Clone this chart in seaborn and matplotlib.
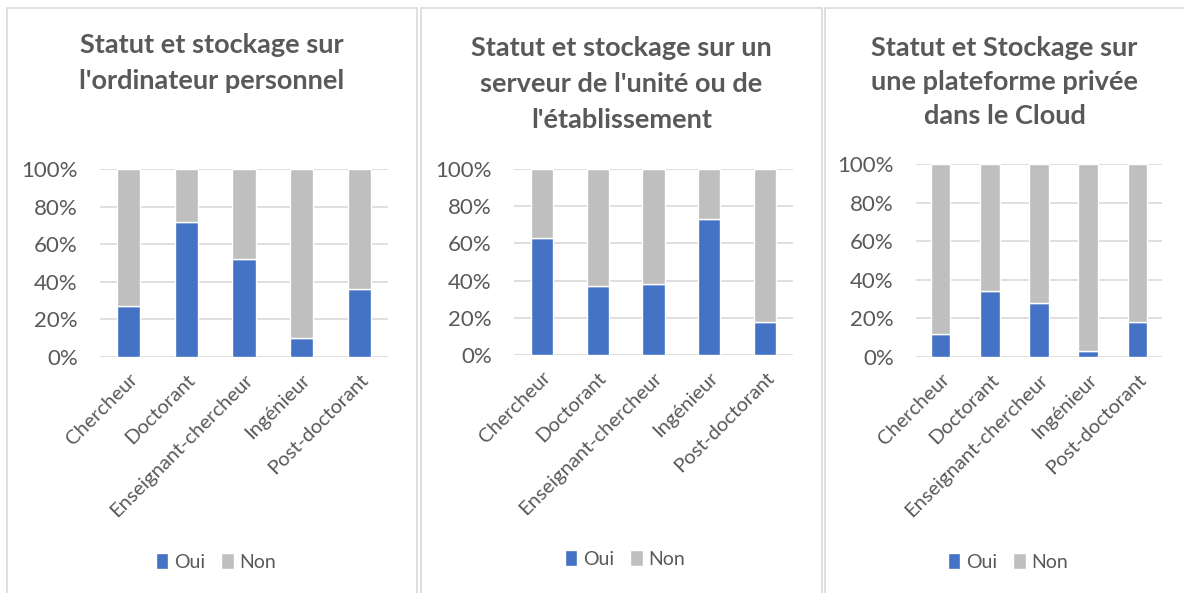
import matplotlib
matplotlib.use("Agg")
import matplotlib.pyplot as plt
import seaborn as sns
import pandas as pd
from matplotlib.patches import Rectangle
from matplotlib.ticker import PercentFormatter

categories = ["Chercheur", "Doctorant", "Enseignant-chercheur", "Ingénieur", "Post-doctorant"]
titles = [
    "Statut et stockage sur\nl'ordinateur personnel",
    "Statut et stockage sur un\nserveur de l'unité ou de\nl'établissement",
    "Statut et Stockage sur\nune plateforme privée\ndans le Cloud",
]
oui_perso = [27, 72, 52, 10, 36]
non_perso = [73, 28, 48, 90, 64]
oui_serveur = [63, 37, 38, 73, 18]
non_serveur = [37, 63, 62, 27, 82]
oui_cloud = [12, 34, 28, 3, 18]
non_cloud = [88, 66, 72, 97, 82]
series_labels = ["Oui", "Non"]
yticks = [0, 20, 40, 60, 80, 100]

sns.set_theme(style="white")
plt.rcParams["font.family"] = ["Lato", "DejaVu Sans"]

W, H = 1184, 593
fig = plt.figure(figsize=(W / 100, H / 100), dpi=100)

BLUE = "#4472C4"
GREY = "#BFBFBF"
TXT = "#595959"
GRID = "#D9D9D9"

panels = [(7, 417), (421, 822), (825, 1190)]
plot_areas = [  # x0, x1, y_top(100%), y_bottom(0%) in pixels
    (100, 388, 169, 357),
    (514, 793, 169, 355),
    (916, 1162, 164, 357),
]
title_y = [63, 84, 82]
title_ls = [1.6, 1.58, 1.5]
legend_y = [562, 559, 562]
legend_x = [216, 625, 1008]
data = [(oui_perso, non_perso), (oui_serveur, non_serveur), (oui_cloud, non_cloud)]

def fx(x):
    return x / W

def fy(y):
    return 1 - y / H

for i, ((px0, px1), (x0, x1, yt, yb), (oui, non)) in enumerate(zip(panels, plot_areas, data)):
    fig.patches.append(Rectangle((fx(px0), fy(H + 5)), fx(px1 - px0), (H + 5 - 8) / H,
                                 transform=fig.transFigure, fill=False,
                                 edgecolor=GRID, linewidth=1.2, zorder=0))
    ax = fig.add_axes([fx(x0), fy(yb), fx(x1 - x0), (yb - yt) / H])
    df = pd.DataFrame({"cat": categories, "oui": oui, "non": non})
    sns.barplot(data=df, x="cat", y="oui", color=BLUE, width=0.4, ax=ax,
                saturation=1, label=series_labels[0], zorder=3)
    sns.barplot(data=df, x="cat", y="non", bottom=df["oui"], color=GREY, width=0.4,
                ax=ax, saturation=1, label=series_labels[1], zorder=3)
    ax.set_ylim(0, 100)
    ax.set_xlim(-0.5, len(categories) - 0.5)
    ax.set_yticks(yticks)
    ax.yaxis.set_major_formatter(PercentFormatter(decimals=0))
    ax.yaxis.grid(True, color=GRID, linewidth=1.2, zorder=0)
    ax.set_axisbelow(True)
    for s in ax.spines.values():
        s.set_visible(False)
    ax.set_xlabel("")
    ax.set_ylabel("")
    ax.tick_params(axis="y", length=0, labelsize=16, labelcolor=TXT, pad=16)
    ax.tick_params(axis="x", length=0, labelsize=14.5, labelcolor=TXT, pad=10)
    for lab in ax.get_xticklabels():
        lab.set_rotation(45)
        lab.set_ha("right")
        lab.set_rotation_mode("anchor")
    cx = (px0 + min(px1, W)) / 2
    fig.text(fx(cx), fy(title_y[i]), titles[i], ha="center", va="center",
             fontsize=19.5, fontweight="bold", color=TXT, linespacing=title_ls[i])
    leg = ax.legend(loc="center", bbox_to_anchor=(fx(legend_x[i]), fy(legend_y[i])),
                    bbox_transform=fig.transFigure, ncol=2, frameon=False,
                    fontsize=14, handlelength=0.65, handleheight=0.9,
                    handletextpad=0.3, columnspacing=0.8)
    for t in leg.get_texts():
        t.set_color(TXT)

fig.savefig("out.png", dpi=100)
